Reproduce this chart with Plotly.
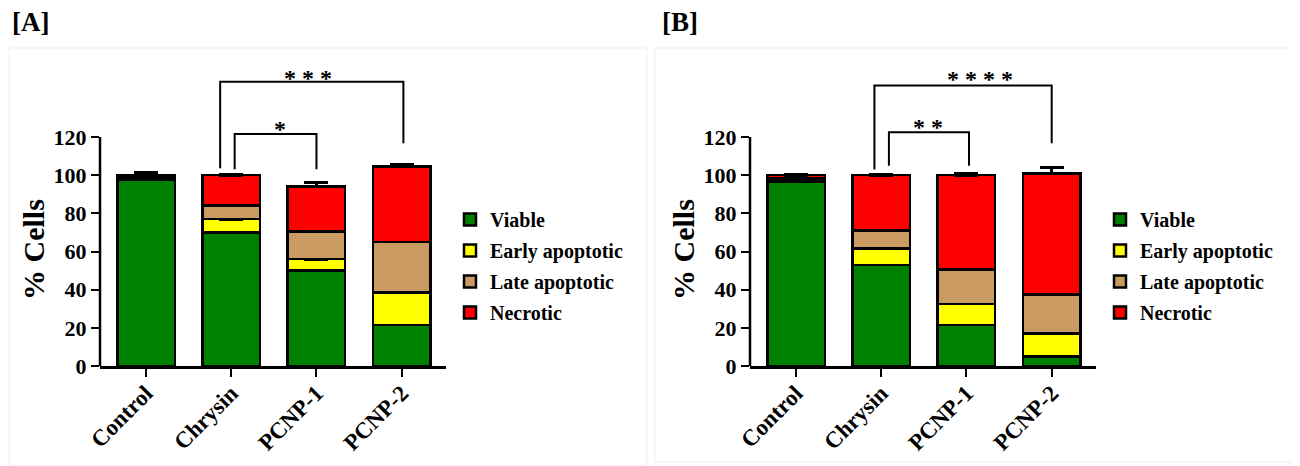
import plotly.graph_objects as go

# ---------------- data ----------------
categories = ["Control", "Chrysin", "PCNP-1", "PCNP-2"]
series_names = ["Viable", "Early apoptotic", "Late apoptotic", "Necrotic"]
series_colors = ["#008000", "#FFFF00", "#C99A62", "#FF0000"]
y_tick_values = [0, 20, 40, 60, 80, 100, 120]

# Panel [A]
a_viable = [97.5, 70, 50, 21.5]
a_early = [0.8, 7, 6, 17]
a_late = [1.2, 7, 14.5, 26.5]
a_necrotic = [0.5, 16, 23.5, 39.5]
a_viable_err = [4, 2, 2, 2.5]
a_early_err = [0.5, 1, 1, 1.5]
a_late_err = [0.5, 2, 2, 0.5]
a_necrotic_err = [0.8, 0.5, 2, 1]

# Panel [B]
b_viable = [96.5, 53, 21.5, 5]
b_early = [1, 8.5, 11, 12]
b_late = [1, 9.5, 18, 20.5]
b_necrotic = [1.5, 29, 49.5, 63.5]
b_viable_err = [3, 1, 1.5, 1]
b_early_err = [0.5, 1, 1, 1]
b_late_err = [0.5, 1, 1, 2.5]
b_necrotic_err = [0.5, 0.3, 1, 3]

# significance brackets:
# (left cat pos, right cat pos, top, left leg bottom, right leg bottom, label, label x, label y)
a_brackets = [
    (1.04, 2.0, 121.6, 103.1, 103.1, "*", 1.57, 124.0),
    (0.87, 3.02, 149.0, 103.6, 116.7, "* * *", 1.90, 151.0),
]
b_brackets = [
    (1.09, 2.03, 122.5, 104.9, 104.9, "* *", 1.55, 125.5),
    (0.92, 3.0, 147.0, 103.0, 116.7, "* * * *", 2.16, 150.5),
]

FONT = "Liberation Serif, Times New Roman, serif"
OFF = 8  # page body margin
W, H = 1300 - OFF, 466 - OFF


def fx(px):
    return (px - OFF) / W


def fy(py):
    return (H - (py - OFF)) / H


panels = [
    dict(x="x", y="y", legend="legend",
         series=[(a_viable, a_viable_err), (a_early, a_early_err),
                 (a_late, a_late_err), (a_necrotic, a_necrotic_err)],
         brackets=a_brackets),
    dict(x="x2", y="y2", legend="legend2",
         series=[(b_viable, b_viable_err), (b_early, b_early_err),
                 (b_late, b_late_err), (b_necrotic, b_necrotic_err)],
         brackets=b_brackets),
]

fig = go.Figure()
shapes = []
annotations = []

for p in panels:
    for s_i, (vals, errs) in enumerate(p["series"]):
        fig.add_trace(go.Bar(
            x=categories, y=vals, name=series_names[s_i],
            xaxis=p["x"], yaxis=p["y"], legend=p["legend"],
            legendgroup=f"{p['legend']}_{s_i}",
            marker=dict(color=series_colors[s_i], line=dict(color="black", width=2.5)),
            width=0.675,
            error_y=dict(type="data", symmetric=False, array=errs,
                         arrayminus=[0] * len(errs), color="black",
                         thickness=3, width=12),
        ))
    # y axis line (only up to 120)
    shapes.append(dict(type="line", xref=f"{p['x']} domain", yref=p["y"],
                       x0=0, x1=0, y0=0, y1=120,
                       line=dict(color="black", width=2.5)))
    for (xl, xr, top, bl, br, lab, lx, ly) in p["brackets"]:
        shapes.append(dict(type="path", xref=p["x"], yref=p["y"],
                           path=f"M {xl},{bl} L {xl},{top} L {xr},{top} L {xr},{br}",
                           line=dict(color="black", width=2)))
        annotations.append(dict(text=lab, x=lx, y=ly, xref=p["x"], yref=p["y"],
                                showarrow=False, xanchor="center", yanchor="middle",
                                font=dict(family=FONT, size=24, color="black", weight="bold")))

# panel frames (faint)
shapes.append(dict(type="rect", xref="paper", yref="paper", x0=fx(9), x1=fx(647),
                   y0=0, y1=fy(48), line=dict(color="#eeeeee", width=1)))
shapes.append(dict(type="rect", xref="paper", yref="paper", x0=fx(655), x1=1,
                   y0=fy(462), y1=fy(48), line=dict(color="#eeeeee", width=1)))

# headings and y titles
for lab, px in [("[A]", 10), ("[B]", 660)]:
    annotations.append(dict(text=lab, x=fx(px), y=fy(22), xref="paper", yref="paper",
                            showarrow=False, xanchor="left", yanchor="middle",
                            font=dict(family=FONT, size=27, color="black", weight="bold")))
for px in [33, 683]:
    annotations.append(dict(text="% Cells", x=fx(px), y=fy(250), xref="paper", yref="paper",
                            showarrow=False, xanchor="center", yanchor="middle", textangle=-90,
                            font=dict(family=FONT, size=30, color="black", weight="bold")))

xaxis_common = dict(range=[-0.54, 3.52], showline=True, linecolor="black", linewidth=2.5,
                    ticks="outside", ticklen=8, tickwidth=2, tickcolor="black",
                    tickangle=-45, showgrid=False, zeroline=False, automargin=False,
                    ticklabelstandoff=-6,
                    tickfont=dict(family=FONT, size=23, color="black", weight="bold"))
y_dom = [fy(366), fy(366 - 160 * 1.908)]
yaxis_common = dict(range=[0, 160], showline=False, tickvals=y_tick_values,
                    ticks="outside", ticklen=8, tickwidth=2, tickcolor="black",
                    showgrid=False, zeroline=False, domain=y_dom, automargin=False,
                    tickfont=dict(family=FONT, size=22, color="black", weight="bold"))

legend_common = dict(xanchor="left", yanchor="middle", y=fy(266),
                     traceorder="grouped", tracegroupgap=2, bgcolor="rgba(0,0,0,0)",
                     font=dict(family=FONT, size=20, color="black", weight="bold"))

fig.update_layout(
    template="none",
    width=W, height=H, autosize=False,
    margin=dict(l=0, r=0, t=0, b=0, pad=0),
    paper_bgcolor="white", plot_bgcolor="white",
    barmode="stack",
    xaxis=dict(domain=[fx(100), fx(446)], anchor="y", **xaxis_common),
    yaxis=dict(anchor="x", **yaxis_common),
    xaxis2=dict(domain=[fx(750), fx(1096)], anchor="y2", **xaxis_common),
    yaxis2=dict(anchor="x2", **yaxis_common),
    legend=dict(x=fx(450), **legend_common),
    legend2=dict(x=fx(1100), **legend_common),
    shapes=shapes,
    annotations=annotations,
)

fig.write_html("out.html")
